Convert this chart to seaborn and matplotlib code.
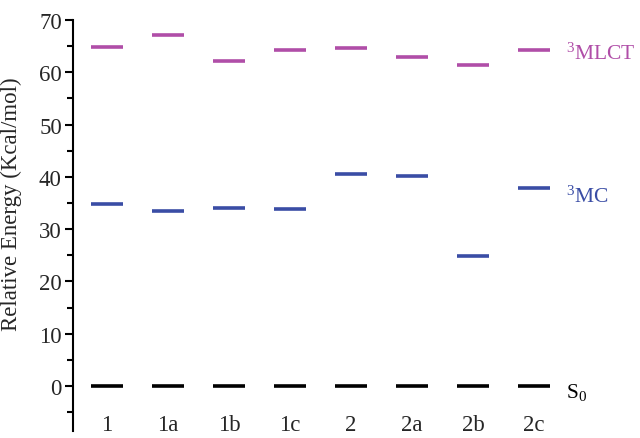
import pandas as pd
import matplotlib
matplotlib.use('Agg')
import matplotlib.pyplot as plt
import seaborn as sns
from matplotlib.ticker import MultipleLocator

# Energy levels (kcal/mol)
compounds = ['1', '1a', '1b', '1c', '2', '2a', '2b', '2c']
mlct = [64.8, 67.2, 62.1, 64.2, 64.6, 62.9, 61.5, 64.3]
mc = [34.8, 33.4, 34.0, 33.8, 40.5, 40.1, 24.8, 37.9]
s0 = [0, 0, 0, 0, 0, 0, 0, 0]

states = ['3MLCT', '3MC', 'S0']
state_labels = [r'$^{\mathrm{3}}$MLCT', r'$^{\mathrm{3}}$MC', r'S$_{\mathrm{0}}$']
colors = {'3MLCT': '#B04EA8', '3MC': '#3A4DA5', 'S0': '#000000'}

df = pd.concat([
    pd.DataFrame({'compound': compounds, 'energy': mlct, 'state': '3MLCT'}),
    pd.DataFrame({'compound': compounds, 'energy': mc, 'state': '3MC'}),
    pd.DataFrame({'compound': compounds, 'energy': s0, 'state': 'S0'}),
])

sns.set_style('white')
plt.rcParams['font.family'] = ['Liberation Serif', 'DejaVu Serif']
plt.rcParams['mathtext.fontset'] = 'custom'
plt.rcParams['mathtext.rm'] = 'Liberation Serif'
plt.rcParams['mathtext.it'] = 'Liberation Serif'

fig = plt.figure(figsize=(6.4, 4.39), dpi=100)
ax = fig.add_axes([0.114, 0.016, 0.886, 0.936])

sns.scatterplot(data=df, x='compound', y='energy', hue='state', palette=colors,
                marker='_', s=23 ** 2, linewidth=2.6, legend=False, ax=ax)

ax.set_xlim(-0.56, 8.74)
ax.set_ylim(-8.6, 70)
ax.yaxis.set_major_locator(MultipleLocator(10))
ax.yaxis.set_minor_locator(MultipleLocator(5))
ax.set_xticks(range(len(compounds)))
ax.set_xticklabels(compounds)
ax.tick_params(axis='x', length=0, pad=-12, labelsize=16.5)
ax.tick_params(axis='y', which='major', direction='out', length=6, width=1.5,
               labelsize=16.5, left=True, color='black', pad=2)
ax.tick_params(axis='y', which='minor', direction='out', length=4, width=1.5,
               left=True, color='black')

for side in ['top', 'right', 'bottom']:
    ax.spines[side].set_visible(False)
ax.spines['left'].set_linewidth(1.5)
ax.spines['left'].set_color('black')

ax.set_xlabel('')
ax.set_ylabel('Relative Energy (Kcal/mol)', fontsize=16.5)
ax.yaxis.set_label_coords(-0.09, 0.555)

# state labels on the right
label_y = [63.6, 36.4, -1.0]
for st, lab, y in zip(states, state_labels, label_y):
    ax.text(7.52, y, lab, color=colors[st], fontsize=15.5, va='center', ha='left')

fig.savefig('out.png', dpi=100)
